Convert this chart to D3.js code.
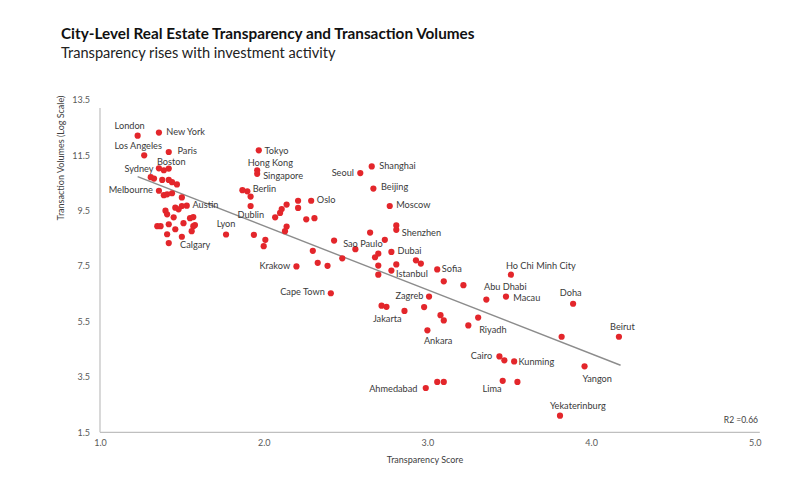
<!DOCTYPE html>
<html>
<head>
<meta charset="utf-8">
<script src="https://cdn.jsdelivr.net/npm/d3@7"></script>
<style>
  html, body { margin: 0; padding: 0; background: #ffffff; }
  svg { display: block; }
</style>
</head>
<body>
<svg id="chart" width="788" height="477"></svg>
<script>
// ---- data ----
const cities = [
  "London","New York","Los Angeles","Paris","","Boston","",
  "Sydney","","","","","",
  "Melbourne","","","","",
  "","Austin","","","","","",
  "","","","","","","","","","","","","Calgary",
  "Lyon","Tokyo","Hong Kong","Singapore","Berlin","","","",
  "Dublin","","","","","","Oslo","","","","","","","",
  "Krakow","","","","","Sao Paulo","","","Cape Town",
  "Seoul","Shanghai","Beijing","Moscow","","Shenzhen","","Dubai",
  "","","","","Istanbul","","","","Sofia","","",
  "Zagreb","","","Jakarta","","","","Ankara","Riyadh","",
  "Ho Chi Minh City","Abu Dhabi","Macau","Doha","Beirut","",
  "Cairo","","Kunming","Yangon","Lima","","Ahmedabad","","","Yekaterinburg"
];
const transparency = [
  1.23,1.36,1.27,1.42,1.36,1.39,1.42,
  1.31,1.33,1.38,1.42,1.44,1.47,
  1.36,1.39,1.41,1.44,1.50,
  1.50,1.53,1.40,1.41,1.45,1.46,1.48,
  1.35,1.37,1.42,1.46,1.51,1.55,1.57,1.57,1.58,1.56,1.41,1.50,1.42,
  1.77,1.97,1.96,1.96,1.90,1.87,1.92,1.92,
  2.07,2.10,2.11,2.14,2.21,2.21,2.29,2.26,2.31,2.14,2.13,1.94,2.01,2.00,
  2.20,2.30,2.33,2.39,2.43,2.56,2.48,2.65,2.41,
  2.59,2.66,2.67,2.77,2.81,2.81,2.74,2.78,
  2.68,2.70,2.70,2.70,2.78,2.81,2.93,2.96,3.06,3.10,3.22,
  3.01,2.98,2.86,2.72,2.75,3.08,3.10,3.00,3.25,3.31,
  3.51,3.36,3.48,3.89,4.17,3.82,
  3.44,3.47,3.53,3.96,3.46,3.55,2.99,3.06,3.10,3.81
];
const volumes = [
  12.21,12.32,11.50,11.62,11.03,10.96,11.02,
  10.71,10.66,10.61,10.61,10.53,10.45,
  10.22,10.06,10.09,10.13,9.98,
  9.67,9.68,9.50,9.37,9.26,9.61,9.55,
  8.94,8.94,9.01,8.83,9.05,9.23,9.27,8.94,8.98,8.76,8.65,8.56,8.33,
  8.64,11.68,10.96,10.83,10.20,10.24,10.01,9.67,
  9.26,9.42,9.56,9.72,9.86,9.60,9.86,9.19,9.23,8.93,8.76,8.63,8.45,8.22,
  7.49,8.05,7.62,7.51,8.42,8.11,7.78,8.71,6.52,
  10.86,11.10,10.30,9.67,8.97,8.81,8.45,8.01,
  7.82,7.95,7.52,7.19,7.34,7.56,7.71,7.59,7.38,6.95,6.81,
  6.40,6.02,5.88,6.07,6.03,5.73,5.54,5.18,5.36,5.64,
  7.19,6.29,6.40,6.14,4.95,4.95,
  4.24,4.10,4.06,3.88,3.36,3.32,3.10,3.32,3.32,2.10
];
const trendX = [1.23, 4.18];
const trendY = [10.73, 3.92];
const xTicks = [1.0, 2.0, 3.0, 4.0, 5.0];
const yTicks = [1.5, 3.5, 5.5, 7.5, 9.5, 11.5, 13.5];
const rSquared = "R2 =0.66";
const titleText = "City-Level Real Estate Transparency and Transaction Volumes";
const subtitleText = "Transparency rises with investment activity";
const xTitle = "Transparency Score";
const yTitle = "Transaction Volumes (Log Scale)";

// ---- label placement (style) : [anchor, dx, dy-to-text-centre] ----
const place = {
  "London":["middle",-8,-10], "New York":["start",7.4,-0.7], "Los Angeles":["middle",-6,-9.3],
  "Paris":["start",8.7,-1.2], "Boston":["middle",7.4,-8.8], "Sydney":["middle",-11.8,-8.6],
  "Melbourne":["end",-6,-0.7], "Austin":["start",5.7,-0.7], "Calgary":["start",11.3,2],
  "Lyon":["middle",0,-11.2], "Tokyo":["start",5.7,0], "Hong Kong":["middle",13.2,-7.3],
  "Singapore":["start",6,2], "Berlin":["start",5.3,-3], "Dublin":["end",-11,-2.3],
  "Oslo":["start",5.7,-0.7], "Sao Paulo":["middle",7.5,-6], "Krakow":["end",-6.3,-0.5],
  "Cape Town":["end",-6,-1.6], "Seoul":["end",-6.3,0], "Shanghai":["start",7.6,-0.8],
  "Beijing":["start",7.6,-1.5], "Moscow":["start",6.5,-1], "Shenzhen":["start",5.5,3],
  "Dubai":["start",6.2,-1.3], "Istanbul":["start",4.7,3.2], "Sofia":["start",4.6,-0.5],
  "Zagreb":["end",-5.6,-0.5], "Jakarta":["middle",5.7,13.3], "Ankara":["middle",10.7,10.2],
  "Riyadh":["start",10.8,4.7], "Ho Chi Minh City":["middle",30,-9], "Abu Dhabi":["middle",19,-13],
  "Macau":["start",7.3,1], "Doha":["middle",-2.4,-11], "Beirut":["middle",3.5,-9.7],
  "Cairo":["end",-7.3,-0.3], "Kunming":["start",4.3,0.4], "Yangon":["middle",12.7,12],
  "Lima":["middle",-10.7,7.6], "Ahmedabad":["end",-8.3,0.7], "Yekaterinburg":["middle",17.8,-10]
};

// ---- drawing ----
const svg = d3.select("#chart");
const font = "Lato, 'Open Sans', sans-serif";
const x = d3.scaleLinear().domain([1, 5]).range([100, 754.8]);
const y = d3.scaleLinear().domain([1.5, 13.5]).range([432.3, 99.9]);

svg.append("text").attr("x", 61).attr("y", 38.5)
  .attr("font-family", font).attr("font-weight", 700).attr("font-size", 15.3)
  .attr("fill", "#111111").text(titleText);
svg.append("text").attr("x", 61).attr("y", 57.5)
  .attr("font-family", font).attr("font-weight", 400).attr("font-size", 14.6)
  .attr("fill", "#222222").text(subtitleText);

// axes
const xAxis = d3.axisBottom(x).tickValues(xTicks).tickFormat(d3.format(".1f")).tickSize(0).tickPadding(7);
const gx = svg.append("g").attr("transform", `translate(0,${y(1.5)})`).call(xAxis);
gx.select(".domain").attr("stroke", "#bfbfbf").attr("stroke-width", 1.2)
  .attr("d", `M${x(1)},0H${x(5) + 5}`);
gx.selectAll("text").attr("font-family", font).attr("font-size", 9).attr("fill", "#595959");

const yAxis = d3.axisLeft(y).tickValues(yTicks).tickFormat(d3.format(".1f")).tickSize(0).tickPadding(10);
const gy = svg.append("g").attr("transform", `translate(${x(1)},0)`).call(yAxis);
gy.select(".domain").attr("stroke", "#bfbfbf").attr("stroke-width", 1.2)
  .attr("d", `M0,${y(13.5) + 8}V${y(1.5)}`);
gy.selectAll("text").attr("font-family", font).attr("font-size", 9).attr("fill", "#595959");

svg.append("text").attr("x", 425).attr("y", 463).attr("text-anchor", "middle")
  .attr("font-family", font).attr("font-size", 9).attr("fill", "#404040").text(xTitle);
svg.append("text").attr("transform", "translate(64,158) rotate(-90)").attr("text-anchor", "middle")
  .attr("font-family", font).attr("font-size", 9).attr("fill", "#404040").text(yTitle);

// trend line
svg.append("line")
  .attr("x1", x(trendX[0])).attr("y1", y(trendY[0]))
  .attr("x2", x(trendX[1])).attr("y2", y(trendY[1]))
  .attr("stroke", "#8c8c8c").attr("stroke-width", 1.4);

// points
const pts = cities.map((c, i) => ({ c, tx: transparency[i], v: volumes[i] }));
svg.append("g").selectAll("circle").data(pts).join("circle")
  .attr("cx", d => x(d.tx)).attr("cy", d => y(d.v)).attr("r", 3.1)
  .attr("fill", "#e3262b");

// labels
svg.append("g").selectAll("text").data(pts.filter(d => d.c && place[d.c])).join("text")
  .attr("x", d => x(d.tx) + place[d.c][1])
  .attr("y", d => y(d.v) + place[d.c][2] + 3.3)
  .attr("text-anchor", d => place[d.c][0])
  .attr("font-family", font).attr("font-size", 9.2).attr("fill", "#3a3a3a")
  .text(d => d.c);

svg.append("text").attr("x", 758).attr("y", 423).attr("text-anchor", "end")
  .attr("font-family", font).attr("font-size", 8.5).attr("fill", "#404040").text(rSquared);
</script>
</body>
</html>
